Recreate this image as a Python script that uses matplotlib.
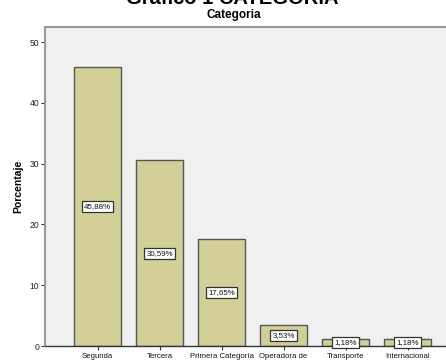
import matplotlib
matplotlib.use("Agg")
import matplotlib.pyplot as plt

categorias = ["Segunda", "Tercera", "Primera Categoría", "Operadora de",
              "Transporte", "Internacional"]
porcentajes = [45.88, 30.59, 17.65, 3.53, 1.18, 1.18]
etiquetas = ["45,88%", "30,59%", "17,65%", "3,53%", "1,18%", "1,18%"]
yticks = [0, 10, 20, 30, 40, 50]

plt.rcParams["font.family"] = ["Liberation Sans", "DejaVu Sans"]

fig = plt.figure(figsize=(4.46, 3.62), dpi=100)
fig.patch.set_facecolor("white")
ax = fig.add_axes([45 / 446, 16 / 362, 401 / 446, 319 / 362])
ax.set_facecolor("#F0F0F0")

x = list(range(len(categorias)))
ax.bar(x, porcentajes, width=0.76, color="#D3CF98", edgecolor="#555555",
       linewidth=1.0, zorder=2)

# etiquetas de valor en recuadro blanco a media altura de cada barra
for xi, v, t in zip(x, porcentajes, etiquetas):
    ax.text(xi, v / 2, t, ha="center", va="center", fontsize=5.7, color="#111111",
            zorder=3,
            bbox=dict(boxstyle="square,pad=0.25", fc="white", ec="#333333", lw=0.9))

ax.set_xlim(-0.85, 5.62)
ax.set_ylim(0, 52.5)
ax.set_yticks(yticks)
ax.set_xticks(x)
ax.set_xticklabels(categorias, fontsize=5.6)
ax.tick_params(axis="y", labelsize=6.2, length=3, width=0.8, color="#333333",
               pad=1, labelcolor="#222222")
ax.tick_params(axis="x", length=3, width=0.8, color="#333333", pad=2,
               labelcolor="#111111")

for s in ["top", "left"]:
    ax.spines[s].set_color("#999999")
    ax.spines[s].set_linewidth(1.5)
ax.spines["right"].set_visible(False)
ax.spines["bottom"].set_color("#333333")
ax.spines["bottom"].set_linewidth(1.0)

ax.set_ylabel("Porcentaje", fontsize=7.5, fontweight="bold", labelpad=5)

fig.text(0.52, 1 + 1 / 362, "Gráfico 1 CATEGORIA", ha="center",
         va="center", fontsize=14.5, fontweight="bold")
fig.text(0.525, 1 - 15 / 362, "Categoria", ha="center", va="center",
         fontsize=8.5, fontweight="bold")

fig.savefig("out.png", dpi=100)
